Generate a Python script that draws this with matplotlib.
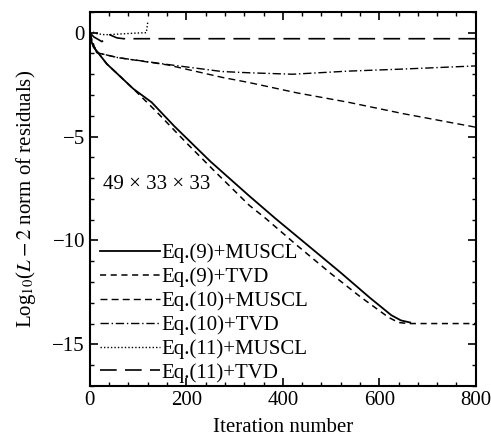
import matplotlib
matplotlib.use('Agg')
import matplotlib.pyplot as plt
from matplotlib.ticker import MultipleLocator

plt.rcParams['font.family'] = ['Liberation Serif', 'DejaVu Serif']
plt.rcParams['mathtext.fontset'] = 'stix'
plt.rcParams['font.size'] = 15

# Eq.(9)+MUSCL
it_9m = [0, 3, 8, 17, 35, 58, 90, 128, 175, 250, 330, 385, 450, 520, 580, 625, 645, 664]
res_9m = [0, -0.4, -0.7, -0.96, -1.5, -2.0, -2.7, -3.35, -4.5, -6.2, -7.85, -8.95,
          -10.2, -11.55, -12.75, -13.6, -13.85, -13.95]
# Eq.(9)+TVD
it_9t = [0, 3, 8, 17, 35, 58, 90, 138, 200, 260, 330, 365, 430, 500, 560, 619, 640, 660, 800]
res_9t = [0, -0.4, -0.7, -0.96, -1.5, -2.0, -2.7, -3.8, -5.3, -6.7, -8.3, -8.95,
          -10.25, -11.6, -12.7, -13.7, -13.95, -14.0, -14.0]
# Eq.(10)+MUSCL
it_10m = [0, 4, 14, 58, 161, 274, 330, 430, 536, 650, 800]
res_10m = [0, -0.33, -0.96, -1.2, -1.55, -2.15, -2.4, -2.9, -3.35, -3.9, -4.55]
# Eq.(10)+TVD
it_10t = [0, 4, 14, 58, 161, 274, 330, 420, 536, 650, 800]
res_10t = [0, -0.33, -0.96, -1.2, -1.53, -1.87, -1.93, -2.0, -1.85, -1.75, -1.6]
# Eq.(11)+MUSCL
it_11m = [0, 4, 15, 31, 50, 72, 95, 117, 120]
res_11m = [0, 0.05, -0.05, -0.1, -0.08, -0.05, -0.02, 0.0, 0.5]
# Eq.(11)+TVD
it_11t = [0, 8, 25, 41, 56, 70, 800]
res_11t = [0, -0.2, -0.43, -0.1, -0.25, -0.29, -0.29]

fig = plt.figure(figsize=(4.91, 4.41), dpi=100)
ax = fig.add_axes([0.183, 0.125, 0.786, 0.848])

ax.plot(it_9m, res_9m, color='black', lw=1.3, label='Eq.(9)+MUSCL')
ax.plot(it_9t, res_9t, color='black', lw=1.1, dashes=(4, 3), label='Eq.(9)+TVD')
ax.plot(it_10m, res_10m, color='black', lw=1.0, dashes=(5, 3), label='Eq.(10)+MUSCL')
ax.plot(it_10t, res_10t, color='black', lw=1.0, dashes=(6, 2, 1, 2), label='Eq.(10)+TVD')
ax.plot(it_11m, res_11m, color='black', lw=1.0, dashes=(1, 1.5), label='Eq.(11)+MUSCL')
ax.plot(it_11t, res_11t, color='black', lw=1.2, dashes=(10, 5), label='Eq.(11)+TVD')

ax.set_xlim(0, 800)
ax.set_ylim(-17, 1)
ax.xaxis.set_major_locator(MultipleLocator(200))
ax.xaxis.set_minor_locator(MultipleLocator(40))
ax.yaxis.set_major_locator(MultipleLocator(5))
ax.yaxis.set_minor_locator(MultipleLocator(1))
ax.tick_params(which='both', direction='in', top=True, right=True)
ax.tick_params(which='major', length=6, width=1.2)
ax.tick_params(which='minor', length=3, width=1)
for s in ax.spines.values():
    s.set_linewidth(1.5)

ax.set_xlabel('Iteration number', labelpad=6)
ax.set_ylabel(r'Log$_{10}$($L-2$ norm of residuals)', labelpad=10)

ax.text(27, -7.3, '49 × 33 × 33', ha='left', va='center')

ax.legend(loc='lower left', bbox_to_anchor=(0.018, 0.0), frameon=False,
          handlelength=2.9, handletextpad=0.05, labelspacing=0.2,
          borderpad=0.15, borderaxespad=0)

fig.savefig('out.png', dpi=100)
